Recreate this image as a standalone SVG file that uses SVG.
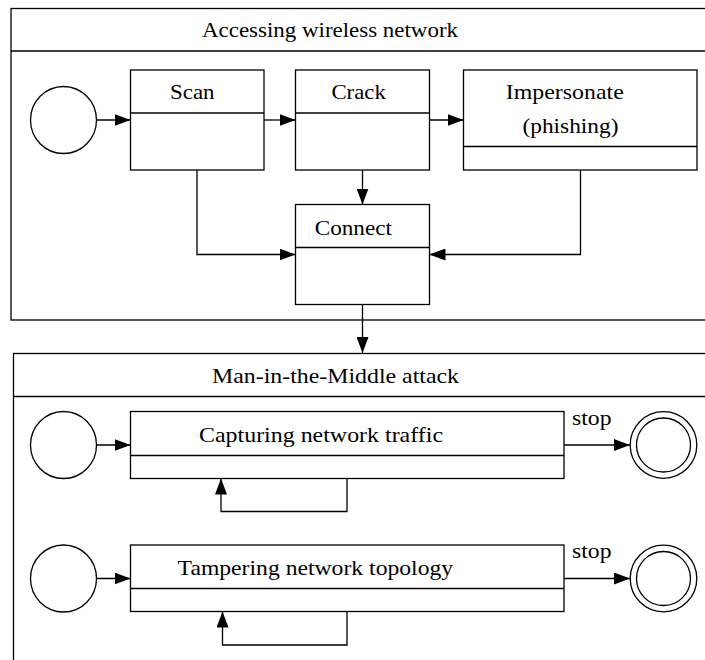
<svg xmlns="http://www.w3.org/2000/svg" width="705" height="660" viewBox="0 0 705 660">
<defs>
<marker id="ah" markerUnits="userSpaceOnUse" markerWidth="16" markerHeight="12" refX="16" refY="6" orient="auto">
<path d="M0,0 L16,6 L0,12 z" fill="#000"/>
</marker>
<style>
.f{fill:none;stroke:#000;stroke-width:1.3}
.b{fill:#fff;stroke:#000;stroke-width:1.3}
.c{fill:none;stroke:#000;stroke-width:1.3;marker-end:url(#ah)}
text{font-family:"Liberation Serif","Times New Roman",serif;font-size:22px;fill:#000}
</style>
</defs>
<rect width="705" height="660" fill="#fff"/>
<g id="frame-access">
<rect class="f" x="11" y="8.5" width="710" height="311.5"/>
<line class="f" x1="11" y1="51" x2="705" y2="51"/>
<text x="202" y="37" textLength="256" lengthAdjust="spacingAndGlyphs">Accessing wireless network</text>
</g>
<g id="frame-mitm">
<rect class="f" x="13.5" y="353.5" width="710" height="320"/>
<line class="f" x1="13.5" y1="396.5" x2="705" y2="396.5"/>
<text x="212" y="383" textLength="247" lengthAdjust="spacingAndGlyphs">Man-in-the-Middle attack</text>
</g>
<g id="start1"><ellipse class="b" cx="63.5" cy="120" rx="33" ry="33.5"/></g>
<g id="scan">
<rect class="b" x="130.5" y="70" width="133.5" height="100"/>
<line class="f" x1="130.5" y1="113" x2="264" y2="113"/>
<text x="170" y="99" textLength="44.5" lengthAdjust="spacingAndGlyphs">Scan</text>
</g>
<g id="crack">
<rect class="b" x="295.5" y="70" width="134" height="100"/>
<line class="f" x1="295.5" y1="113" x2="429.5" y2="113"/>
<text x="331.4" y="99" textLength="54.4" lengthAdjust="spacingAndGlyphs">Crack</text>
</g>
<g id="impersonate">
<rect class="b" x="463.5" y="70" width="233.5" height="100"/>
<line class="f" x1="463.5" y1="146.5" x2="697" y2="146.5"/>
<text x="505.8" y="99" textLength="118" lengthAdjust="spacingAndGlyphs">Impersonate</text>
<text x="522.5" y="133" textLength="96" lengthAdjust="spacingAndGlyphs">(phishing)</text>
</g>
<g id="connect">
<rect class="b" x="295.5" y="204.5" width="134" height="100"/>
<line class="f" x1="295.5" y1="247.5" x2="429.5" y2="247.5"/>
<text x="314.7" y="235" textLength="77.3" lengthAdjust="spacingAndGlyphs">Connect</text>
</g>
<g id="start2"><ellipse class="b" cx="63.5" cy="445" rx="33" ry="33.5"/></g>
<g id="capturing">
<rect class="b" x="130.5" y="411.5" width="433.5" height="67"/>
<line class="f" x1="130.5" y1="455.5" x2="564" y2="455.5"/>
<text x="199" y="442" textLength="244" lengthAdjust="spacingAndGlyphs">Capturing network traffic</text>
</g>
<g id="end1">
<circle class="b" cx="663.5" cy="445" r="33.3"/>
<circle class="f" cx="663.5" cy="445" r="27"/>
</g>
<g id="start3"><ellipse class="b" cx="63.5" cy="578.5" rx="33" ry="33.5"/></g>
<g id="tampering">
<rect class="b" x="130.5" y="545" width="433.5" height="66.5"/>
<line class="f" x1="130.5" y1="588.5" x2="564" y2="588.5"/>
<text x="177.6" y="575" textLength="275.6" lengthAdjust="spacingAndGlyphs">Tampering network topology</text>
</g>
<g id="end2">
<circle class="b" cx="663.5" cy="578.5" r="33.3"/>
<circle class="f" cx="663.5" cy="578.5" r="27"/>
</g>
<g id="connectors">
<line class="c" x1="96.5" y1="120" x2="130.5" y2="120"/>
<line class="c" x1="264" y1="120" x2="295.5" y2="120"/>
<line class="c" x1="429.5" y1="120" x2="463.5" y2="120"/>
<line class="c" x1="362.5" y1="170" x2="362.5" y2="204.5"/>
<polyline class="c" points="197,170 197,254.5 295.5,254.5"/>
<polyline class="c" points="580.5,170 580.5,254.5 429.5,254.5"/>
<line class="c" x1="362.5" y1="304.5" x2="362.5" y2="353"/>
<line class="c" x1="96.5" y1="445" x2="130.5" y2="445"/>
<line class="c" x1="564" y1="445" x2="630" y2="445"/>
<text x="572" y="425" textLength="39.5" lengthAdjust="spacingAndGlyphs">stop</text>
<polyline class="c" points="347,478.5 347,511.5 221,511.5 221,478.5"/>
<line class="c" x1="96.5" y1="578.5" x2="130.5" y2="578.5"/>
<line class="c" x1="564" y1="578.5" x2="630" y2="578.5"/>
<text x="572" y="558" textLength="39.5" lengthAdjust="spacingAndGlyphs">stop</text>
<polyline class="c" points="347,611.5 347,645 222.5,645 222.5,611.5"/>
</g>
</svg>
